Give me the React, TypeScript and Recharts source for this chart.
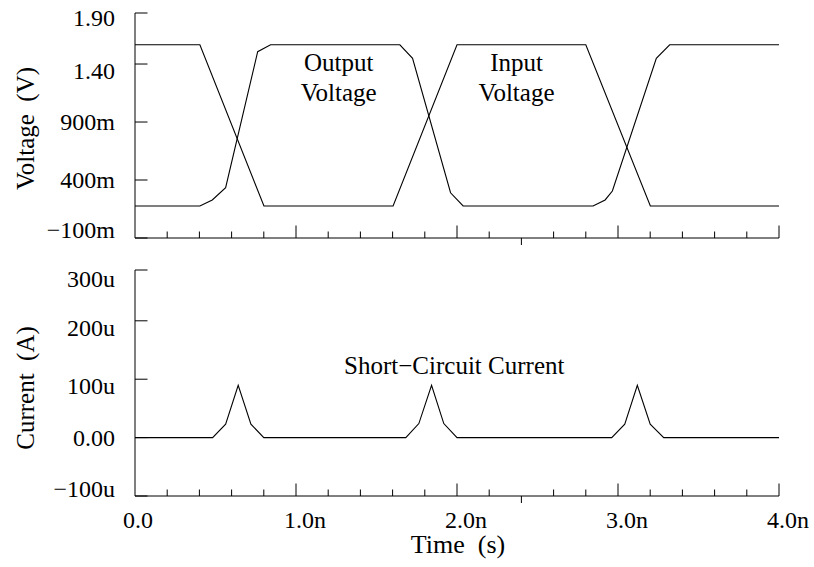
import { LineChart, Line, XAxis, YAxis, ReferenceDot } from 'recharts';

// time in ns
const timeTicks = [0, 0.2, 0.4, 0.6, 0.8, 1, 1.2, 1.4, 1.6, 1.8, 2, 2.2, 2.4, 2.6, 2.8, 3, 3.2, 3.4, 3.6, 3.8, 4];
const timeLabels = ['0.0', '1.0n', '2.0n', '3.0n', '4.0n'];

const inputTime = [0, 0.403, 0.801, 1.603, 2.0, 2.8, 3.201, 4.0];
const inputVolt = [1.566, 1.566, 0.176, 0.176, 1.566, 1.566, 0.176, 0.176];

const outputTime = [0, 0.403, 0.48, 0.563, 0.762, 0.842, 1.645, 1.724, 1.96, 2.038, 2.845, 2.92, 2.965, 3.238, 3.321, 4.0];
const outputVolt = [0.176, 0.176, 0.228, 0.334, 1.506, 1.566, 1.566, 1.449, 0.29, 0.176, 0.176, 0.228, 0.305, 1.449, 1.566, 1.566];

// short-circuit current in uA
const currentTime = [0, 0.482, 0.563, 0.641, 0.72, 0.8, 1.682, 1.763, 1.842, 1.918, 2.0, 2.961, 3.042, 3.12, 3.2, 3.284, 4.0];
const currentUA = [0, 0, 23, 89.6, 23, 0, 0, 24, 89.6, 24, 0, 0, 23, 89.6, 23, 0, 0];

const voltTicks = [-0.1, 0.4, 0.9, 1.4, 1.84];
const voltLabels = ['−100m', '400m', '900m', '1.40', '1.90'];
const currTicks = [-100, 0, 100, 200, 287];
const currLabels = ['−100u', '0.00', '100u', '200u', '300u'];

const inputRows = inputTime.map((t, i) => ({ t, v: inputVolt[i] }));
const outputRows = outputTime.map((t, i) => ({ t, v: outputVolt[i] }));
const currentRows = currentTime.map((t, i) => ({ t, i: currentUA[i] }));

const FONT = 'Liberation Serif';

function TimeTick(props: any) {
  const { x, y, payload, showLabel } = props;
  const v = payload.value;
  const major = Math.abs(v - Math.round(v)) < 1e-6;
  const down = Math.abs(v - 2.4) < 1e-6;
  const len = major ? 12.5 : 6.5;
  return (
    <g>
      {v > 0 && (
        <line x1={x} x2={x} y1={y} y2={down ? y + 7 : y - len} stroke='#000' strokeWidth={1} />
      )}
      {showLabel && major && (
        <text x={x - 12} y={y + 32} textAnchor='start' fontFamily={FONT} fontSize={24} fill='#000'>
          {timeLabels[Math.round(v)]}
        </text>
      )}
    </g>
  );
}

function LevelTick(props: any) {
  const { x, y, index, labels, shifts } = props;
  return (
    <g>
      <line x1={x} x2={x + 12.5} y1={y} y2={y} stroke='#000' strokeWidth={1} />
      <text x={x - 20} y={y + shifts[index] + 8} textAnchor='end' fontFamily={FONT} fontSize={24} fill='#000'>
        {labels[index]}
      </text>
    </g>
  );
}

function YTitle(props: any) {
  const { viewBox, text, shift } = props;
  const cy = viewBox.y + viewBox.height / 2 + shift;
  return (
    <text
      x={33.5}
      y={cy}
      transform={`rotate(-90 33.5 ${cy})`}
      textAnchor='middle'
      fontFamily={FONT}
      fontSize={25}
      fill='#000'
      style={{ whiteSpace: 'pre' }}
    >
      {text}
    </text>
  );
}

function XTitle(props: any) {
  const { viewBox } = props;
  return (
    <text
      x={viewBox.x + viewBox.width / 2 + 1}
      y={viewBox.y + 57}
      textAnchor='middle'
      fontFamily={FONT}
      fontSize={26}
      fill='#000'
      style={{ whiteSpace: 'pre' }}
    >
      Time  (s)
    </text>
  );
}

function Note(props: any) {
  const { viewBox, lines } = props;
  const cx = viewBox.x + viewBox.width / 2;
  const cy = viewBox.y + viewBox.height / 2;
  return (
    <text textAnchor='middle' fontFamily={FONT} fontSize={25} fill='#000'>
      {lines.map((l: string, k: number) => (
        <tspan key={k} x={cx} y={cy + k * 30}>
          {l}
        </tspan>
      ))}
    </text>
  );
}

export default function App() {
  return (
    <div style={{ position: 'absolute', left: 0, top: 0, width: 814, height: 567, background: '#fff' }}>
      <LineChart width={814} height={250} margin={{ top: 13, right: 35, bottom: 0, left: 25 }}>
        <XAxis
          type='number'
          dataKey='t'
          domain={[0, 4]}
          ticks={timeTicks}
          interval={0}
          allowDuplicatedCategory={false}
          height={12}
          tickSize={0}
          tickMargin={0}
          tick={<TimeTick showLabel={false} />}
          stroke='#000'
        />
        <YAxis
          type='number'
          domain={[-0.1, 1.84]}
          ticks={voltTicks}
          interval={0}
          width={110}
          tickSize={0}
          tickMargin={0}
          tick={<LevelTick labels={voltLabels} shifts={[-8, 0, 0, 7, 5]} />}
          stroke='#000'
          label={<YTitle text='Voltage  (V)' shift={3} />}
        />
        <Line data={inputRows} dataKey='v' type='linear' stroke='#000' strokeWidth={1.1} dot={false} isAnimationActive={false} />
        <Line data={outputRows} dataKey='v' type='linear' stroke='#000' strokeWidth={1.1} dot={false} isAnimationActive={false} />
        <ReferenceDot x={1.265} y={1.34} r={0} fill='none' stroke='none' label={<Note lines={['Output', 'Voltage']} />} />
        <ReferenceDot x={2.37} y={1.34} r={0} fill='none' stroke='none' label={<Note lines={['Input', 'Voltage']} />} />
      </LineChart>
      <LineChart width={814} height={317} margin={{ top: 20, right: 35, bottom: 41, left: 25 }}>
        <XAxis
          type='number'
          dataKey='t'
          domain={[0, 4]}
          ticks={timeTicks}
          interval={0}
          height={30}
          tickSize={0}
          tickMargin={0}
          tick={<TimeTick showLabel />}
          stroke='#000'
          label={<XTitle />}
        />
        <YAxis
          type='number'
          domain={[-100, 287]}
          ticks={currTicks}
          interval={0}
          width={110}
          tickSize={0}
          tickMargin={0}
          tick={<LevelTick labels={currLabels} shifts={[-7, 0, 7, 7, 9]} />}
          stroke='#000'
          label={<YTitle text='Current  (A)' shift={5} />}
        />
        <Line data={currentRows} dataKey='i' type='linear' stroke='#000' strokeWidth={1.1} dot={false} isAnimationActive={false} />
        <ReferenceDot x={1.983} y={109} r={0} fill='none' stroke='none' label={<Note lines={['Short−Circuit Current']} />} />
      </LineChart>
    </div>
  );
}
